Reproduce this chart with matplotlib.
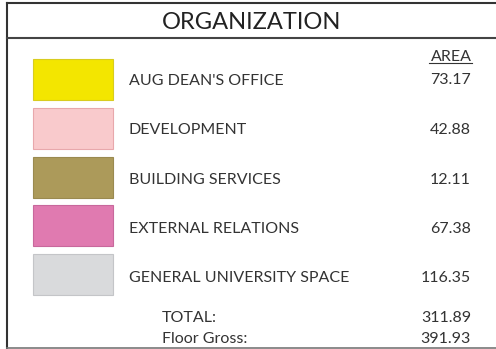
import matplotlib
matplotlib.use('Agg')
import matplotlib.pyplot as plt
from matplotlib.patches import Rectangle

title = 'ORGANIZATION'
names = ['AUG DEAN\'S OFFICE', 'DEVELOPMENT', 'BUILDING SERVICES',
         'EXTERNAL RELATIONS', 'GENERAL UNIVERSITY SPACE']
areas = [73.17, 42.88, 12.11, 67.38, 116.35]
colors = ['#F3E600', '#F9CACC', '#AC9A5A', '#E07AB0', '#D9DADC']
edges = ['#D8CC20', '#E8A8AC', '#9A8A50', '#C8689C', '#C4C5C8']
total_label = 'TOTAL:'
total = 311.89
gross_label = 'Floor Gross:'
gross = 391.93

plt.rcParams['font.family'] = ['Lato', 'DejaVu Sans']

fig = plt.figure(figsize=(4.96, 3.49), dpi=100)
ax = fig.add_axes([0, 0, 1, 1])
ax.set_xlim(0, 496)
ax.set_ylim(349, 0)
ax.axis('off')

# frame
ax.plot([7, 7], [3, 348], color='#333333', lw=1.5)
ax.plot([7, 496], [3, 3], color='#333333', lw=1.5)
ax.plot([7, 496], [37.5, 37.5], color='#444444', lw=1.5)
ax.plot([7, 496], [347.5, 347.5], color='#777777', lw=1.2)

ax.text(252, 29, title, ha='center', va='baseline', fontsize=17, color='#222222')

fs = 11.5
ax.text(472, 61, 'AREA', ha='right', va='baseline', fontsize=fs, color='#333333')
ax.plot([429, 472], [63, 63], color='#333333', lw=0.8)

for i, (n, a, c, e) in enumerate(zip(names, areas, colors, edges)):
    top = 59 + i * 48.8
    base = 85 + i * 49.25
    ax.add_patch(Rectangle((33, top), 80, 41, facecolor=c, edgecolor=e, lw=0.8))
    ax.text(129, base, n, ha='left', va='baseline', fontsize=fs, color='#333333')
    ax.text(471, base - (1 if i == 0 else 0), f'{a:.2f}', ha='right', va='baseline',
            fontsize=fs, color='#333333')

ax.text(162, 322, total_label, ha='left', va='baseline', fontsize=fs, color='#333333')
ax.text(471, 322, f'{total:.2f}', ha='right', va='baseline', fontsize=fs, color='#333333')
ax.text(162, 343, gross_label, ha='left', va='baseline', fontsize=fs, color='#333333')
ax.text(471, 343, f'{gross:.2f}', ha='right', va='baseline', fontsize=fs, color='#333333')

fig.savefig('out.png', dpi=100)
